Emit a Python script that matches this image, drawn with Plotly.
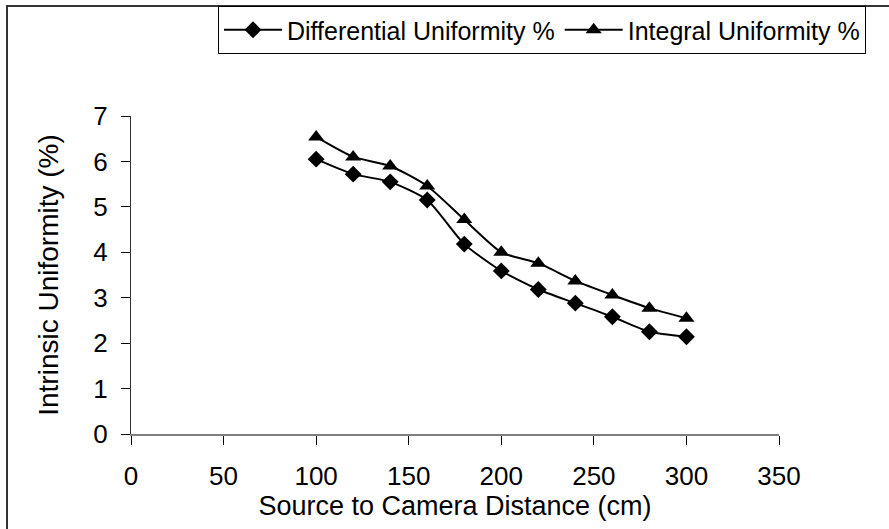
import plotly.graph_objects as go

distance = [100, 120, 140, 160, 180, 200, 220, 240, 260, 280, 300]
differential = [6.05, 5.72, 5.55, 5.15, 4.18, 3.59, 3.18, 2.88, 2.58, 2.25, 2.14]
integral = [6.54, 6.10, 5.90, 5.46, 4.72, 4.00, 3.76, 3.37, 3.06, 2.77, 2.55]
x_ticks = [0, 50, 100, 150, 200, 250, 300, 350]
y_ticks = [0, 1, 2, 3, 4, 5, 6, 7]

FONT = "Liberation Sans, Arial, sans-serif"

fig = go.Figure()
fig.add_trace(go.Scatter(
    x=distance, y=differential, name="Differential Uniformity %",
    mode="lines+markers",
    line=dict(color="black", width=2, shape="spline", smoothing=0.6),
    marker=dict(symbol="diamond", size=13, color="black"),
))
fig.add_trace(go.Scatter(
    x=distance, y=integral, name="Integral Uniformity %",
    mode="lines+markers",
    line=dict(color="black", width=2, shape="spline", smoothing=0.6),
    marker=dict(symbol="triangle-up", size=14, color="black"),
))

W, H = 889, 529
L, R, T, B = 131, 110, 116, 95
pw, ph = W - L - R, H - T - B

def px(xs):
    return (xs - L) / pw

def py(ys):
    return (H - B - ys) / ph

fig.update_layout(
    width=W, height=H,
    margin=dict(l=L, r=R, t=T, b=B, autoexpand=False),
    paper_bgcolor="white", plot_bgcolor="white",
    font=dict(family=FONT, color="black"),
    showlegend=True,
    legend=dict(
        orientation="h", x=px(218), y=py(6), xanchor="left", yanchor="top",
        bordercolor="black", borderwidth=1, bgcolor="white",
        font=dict(size=25, family=FONT), itemwidth=58,
    ),
    xaxis=dict(
        range=[0, 350], tickvals=x_ticks, ticktext=[str(v) for v in x_ticks],
        showgrid=False, zeroline=False, showline=True, linecolor="#808080", linewidth=2,
        ticks="outside", ticklen=9, tickcolor="black", tickwidth=1,
        tickfont=dict(size=26), ticklabelstandoff=9,
        title=dict(text="Source to Camera Distance (cm)", font=dict(size=27), standoff=2),
    ),
    yaxis=dict(
        range=[0, 7], tickvals=y_ticks, ticktext=[str(v) for v in y_ticks],
        showgrid=False, zeroline=False, showline=True, linecolor="#333", linewidth=1,
        ticks="outside", ticklen=9, tickcolor="black", tickwidth=1,
        tickfont=dict(size=26), ticklabelstandoff=8,
        title=dict(text="Intrinsic Uniformity (%)", font=dict(size=28), standoff=26),
    ),
    shapes=[dict(
        type="rect", xref="paper", yref="paper",
        x0=px(7), x1=px(W + 20), y0=py(H + 20), y1=py(6),
        line=dict(color="#333", width=2), fillcolor="rgba(0,0,0,0)", layer="below",
    )],
)

fig.write_html(
    "out.html",
    config={"displayModeBar": False},
    post_script="document.body.style.margin='0';document.body.style.overflow='hidden';",
)
